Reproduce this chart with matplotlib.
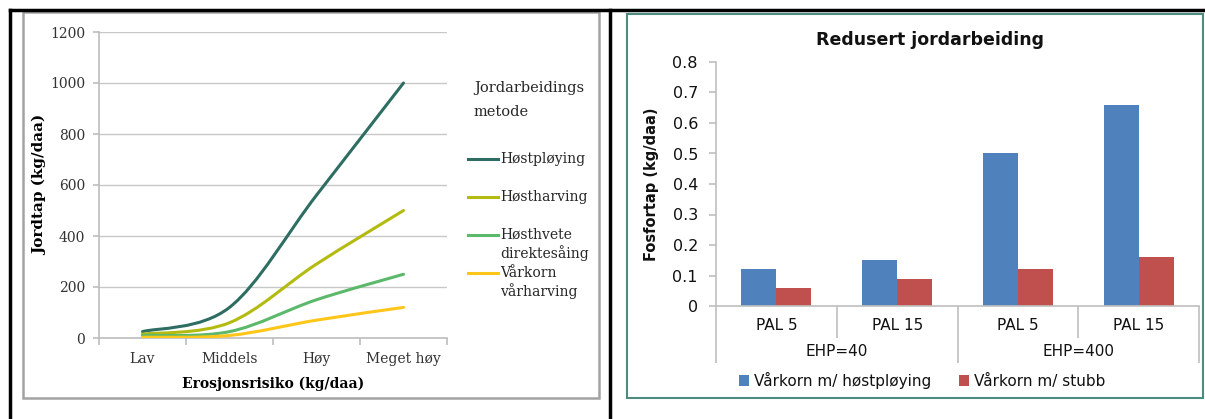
import numpy as np
import matplotlib
matplotlib.use('Agg')
import matplotlib.pyplot as plt
from matplotlib.path import Path
from matplotlib.patches import PathPatch, Rectangle, Patch
from matplotlib.lines import Line2D

# left chart data
risk_levels = ['Lav', 'Middels', 'Høy', 'Meget høy']
hostploying = [25, 120, 560, 1000]
hostharving = [15, 60, 290, 500]
hosthvete = [10, 25, 150, 250]
varkorn = [3, 10, 70, 120]
line_names = ['Høstpløying', 'Høstharving', 'Høsthvete\ndirektesåing', 'Vårkorn\nvårharving']
line_colors = ['#2E6E62', '#B4BB10', '#5CB86B', '#FFC61A']

# right chart data
pal_labels = ['PAL 5', 'PAL 15', 'PAL 5', 'PAL 15']
ehp_labels = ['EHP=40', 'EHP=400']
host_ploying_p = [0.12, 0.15, 0.50, 0.66]
stubb_p = [0.06, 0.09, 0.12, 0.16]
bar_names = ['Vårkorn m/ høstpløying', 'Vårkorn m/ stubb']
bar_colors = ['#4F81BD', '#C0504D']
p_ticks = [0, 0.1, 0.2, 0.3, 0.4, 0.5, 0.6, 0.7, 0.8]
p_tick_labels = ['0', '0.1', '0.2', '0.3', '0.4', '0.5', '0.6', '0.7', '0.8']

W, H = 1205, 419
fig = plt.figure(figsize=(W / 100, H / 100), dpi=100)


def fx(px):
    return px / W


def fy(py):
    return 1 - py / H


def smooth_path(xs, ys):
    # excel style smoothed line: bezier segments through the points
    pts = np.column_stack([xs, ys]).astype(float)
    n = len(pts)
    verts = [pts[0]]
    codes = [Path.MOVETO]
    for i in range(n - 1):
        p0 = pts[max(i - 1, 0)]
        p1 = pts[i]
        p2 = pts[i + 1]
        p3 = pts[min(i + 2, n - 1)]
        verts += [p1 + (p2 - p0) / 6, p2 - (p3 - p1) / 6, p2]
        codes += [Path.CURVE4] * 3
    return Path(verts, codes)


# ---- table lines and frames ----
fig.add_artist(Line2D([fx(10), fx(1205)], [fy(10), fy(10)], color='black', lw=2.5))
fig.add_artist(Line2D([fx(10), fx(10)], [fy(10), fy(419)], color='black', lw=2.5))
fig.add_artist(Line2D([fx(610), fx(610)], [fy(10), fy(419)], color='black', lw=2.5))
fig.add_artist(Rectangle((fx(23), fy(398)), fx(599) - fx(23), fy(12) - fy(398),
                         fill=False, edgecolor='#A3A3A3', lw=1.8, transform=fig.transFigure))
fig.add_artist(Rectangle((fx(627), fy(398)), fx(1203) - fx(627), fy(14) - fy(398),
                         fill=False, edgecolor='#4E8C80', lw=1.5, transform=fig.transFigure))

# ---- left chart ----
serif = 'DejaVu Serif'
ax1 = fig.add_axes([fx(99), fy(338), fx(447) - fx(99), fy(32) - fy(338)])
x = np.arange(len(risk_levels))
for vals, c in zip([hostploying, hostharving, hosthvete, varkorn], line_colors):
    ax1.add_patch(PathPatch(smooth_path(x, vals), fill=False, edgecolor=c, lw=2.2,
                            capstyle='round', zorder=3))
ax1.set_xlim(-0.5, 3.5)
ax1.set_ylim(0, 1200)
ax1.set_yticks(range(0, 1201, 200))
ax1.set_xticks(x)
ax1.set_xticklabels(risk_levels)
ax1.set_xticks(np.arange(-0.5, 4, 1), minor=True)
ax1.grid(axis='y', color='#C8C8C8', lw=1)
ax1.set_axisbelow(True)
for s in ['top', 'right']:
    ax1.spines[s].set_visible(False)
for s in ['left', 'bottom']:
    ax1.spines[s].set_color('#BDBDBD')
    ax1.spines[s].set_linewidth(1.2)
ax1.tick_params(axis='x', which='major', length=0, pad=10)
ax1.tick_params(axis='x', which='minor', length=5, color='#BDBDBD', width=1.2)
ax1.tick_params(axis='y', length=4, color='#BDBDBD', width=1.2, pad=6)
for lab in ax1.get_xticklabels() + ax1.get_yticklabels():
    lab.set_fontfamily(serif)
    lab.set_fontsize(10)
    lab.set_color('#333333')
ax1.set_xlabel('Erosjonsrisiko (kg/daa)', fontfamily=serif, fontweight='bold',
               fontsize=10, labelpad=8)
ax1.set_ylabel('Jordtap (kg/daa)', fontfamily=serif, fontweight='bold',
               fontsize=11, labelpad=2)

# left legend
fig.text(fx(474), fy(88), 'Jordarbeidings', fontfamily=serif, fontsize=10.5,
         color='#262626', va='center', ha='left')
fig.text(fx(474), fy(112), 'metode', fontfamily=serif, fontsize=10.5,
         color='#262626', va='center', ha='left')
leg_y = [159, 197, 235, 273]
for name, c, yy in zip(line_names, line_colors, leg_y):
    fig.add_artist(Line2D([fx(468), fx(498)], [fy(yy), fy(yy)], color=c, lw=2.2))
    fig.text(fx(500), fy(yy - 7), name, fontfamily=serif, fontsize=10,
             color='#262626', va='top', ha='left', linespacing=1.25)

# ---- right chart ----
ax2 = fig.add_axes([fx(716), fy(306), fx(1199) - fx(716), fy(62) - fy(306)])
xb = np.arange(len(pal_labels))
bw = 0.29
ax2.bar(xb - bw / 2, host_ploying_p, bw, color=bar_colors[0], label=bar_names[0])
ax2.bar(xb + bw / 2, stubb_p, bw, color=bar_colors[1], label=bar_names[1])
ax2.set_xlim(-0.5, len(pal_labels) - 0.5)
ax2.set_ylim(0, 0.8)
ax2.set_yticks(p_ticks)
ax2.set_yticklabels(p_tick_labels)
ax2.set_xticks(xb)
ax2.set_xticklabels(pal_labels)
for s in ['top', 'right']:
    ax2.spines[s].set_visible(False)
for s in ['left', 'bottom']:
    ax2.spines[s].set_color('#BFBFBF')
    ax2.spines[s].set_linewidth(1.2)
ax2.tick_params(axis='x', length=0, pad=9, labelsize=11, labelcolor='#111111')
ax2.tick_params(axis='y', length=5, color='#BFBFBF', width=1.2, pad=8,
                labelsize=11.5, labelcolor='#111111')
ax2.set_ylabel('Fosfortap (kg/daa)', fontweight='bold', fontsize=10.5,
               labelpad=10, color='#111111')

# multi-level category separators and group labels
trans = ax2.get_xaxis_transform()
short_sep = [0.5, 2.5]
long_sep = [-0.5, 1.5, 3.5]
ax2.vlines(short_sep, -32 / 244, 0, transform=trans, color='#BFBFBF', lw=1.2, clip_on=False)
ax2.vlines(long_sep, -57 / 244, 0, transform=trans, color='#BFBFBF', lw=1.2, clip_on=False)
for i, lab in enumerate(ehp_labels):
    ax2.text(2 * i + 0.5, -46 / 244, lab, transform=trans, ha='center', va='center',
             fontsize=11, color='#111111')

fig.text(fx(930), fy(40), 'Redusert jordarbeiding', ha='center', va='center',
         fontweight='bold', fontsize=12.5, color='#111111')

handles = [Patch(facecolor=c) for c in bar_colors]
fig.legend(handles, bar_names, loc='center', bbox_to_anchor=(fx(922), fy(380)),
           ncol=2, frameon=False, fontsize=11, handlelength=0.7, handleheight=0.7,
           handletextpad=0.3, columnspacing=1.8, labelcolor='#111111')

fig.savefig('out.png', dpi=100)
